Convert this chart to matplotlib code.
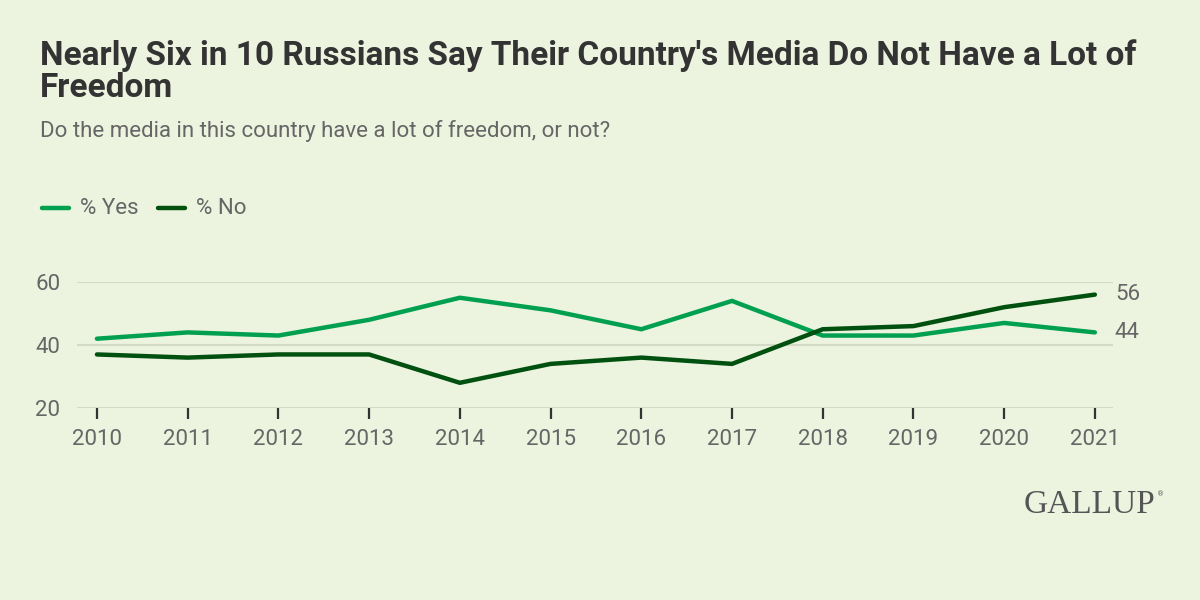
import matplotlib.pyplot as plt

years = [2010, 2011, 2012, 2013, 2014, 2015, 2016, 2017, 2018, 2019, 2020, 2021]
yes_pct = [42, 44, 43, 48, 55, 51, 45, 54, 43, 43, 47, 44]
no_pct = [37, 36, 37, 37, 28, 34, 36, 34, 45, 46, 52, 56]
y_ticks = [20, 40, 60]

bg = '#ECF3DE'
yes_color = '#00A050'
no_color = '#00500F'
text_gray = '#666666'

plt.rcParams['font.family'] = ['Roboto', 'DejaVu Sans']

fig = plt.figure(figsize=(12, 6), dpi=100, facecolor=bg)
ax = fig.add_axes([77 / 1200, 1 - 408 / 600, (1113 - 77) / 1200, (408 - 282) / 600])
ax.set_facecolor(bg)

ax.plot(years, yes_pct, color=yes_color, lw=3.2, solid_capstyle='round', clip_on=False, zorder=3)
ax.plot(years, no_pct, color=no_color, lw=3.2, solid_capstyle='round', clip_on=False, zorder=3)

ax.set_xlim(2009.78, 2021.2)
ax.set_ylim(20, 60)
ax.set_yticks(y_ticks)
ax.set_xticks(years)
ax.set_xticklabels([str(y) for y in years])
ax.grid(axis='y', color='#D3DBC6', lw=1.5)
ax.set_axisbelow(True)
for s in ax.spines.values():
    s.set_visible(False)
ax.tick_params(axis='y', length=0, pad=12, labelsize=16, labelcolor=text_gray)
ax.tick_params(axis='x', length=8, width=1.6, color='#333333', direction='out', pad=7,
               labelsize=16, labelcolor=text_gray)

# end labels
ax.text(2021.22, no_pct[-1], str(no_pct[-1]), color=text_gray, fontsize=16, va='center', ha='left')
ax.text(2021.22, yes_pct[-1], str(yes_pct[-1]), color=text_gray, fontsize=16, va='center', ha='left')

# title block
fig.text(40 / 1200, 1 - 56 / 600, "Nearly Six in 10 Russians Say Their Country's Media Do Not Have a Lot of",
         fontsize=24, fontweight='bold', color='#333333', va='center')
fig.text(40 / 1200, 1 - 88 / 600, "Freedom", fontsize=24, fontweight='bold', color='#333333', va='center')
fig.text(40 / 1200, 1 - 131 / 600, "Do the media in this country have a lot of freedom, or not?",
         fontsize=16, color=text_gray, va='center')

# legend
fig.add_artist(plt.Line2D([42 / 1200, 69 / 1200], [1 - 208 / 600] * 2, color=yes_color, lw=3.2,
                          solid_capstyle='round'))
fig.text(80 / 1200, 1 - 208 / 600, "% Yes", fontsize=16, color=text_gray, va='center')
fig.add_artist(plt.Line2D([158 / 1200, 185 / 1200], [1 - 208 / 600] * 2, color=no_color, lw=3.2,
                          solid_capstyle='round'))
fig.text(196 / 1200, 1 - 208 / 600, "% No", fontsize=16, color=text_gray, va='center')

# logo
fig.text(1155 / 1200, 1 - 505 / 600, "GALLUP", family='Liberation Serif', fontsize=24,
         color='#555555', ha='right', va='center')
fig.text(1157 / 1200, 1 - 494 / 600, "®", family='DejaVu Sans', fontsize=5, color='#555555',
         ha='left', va='center')

fig.savefig('out.png', dpi=100, facecolor=bg)
